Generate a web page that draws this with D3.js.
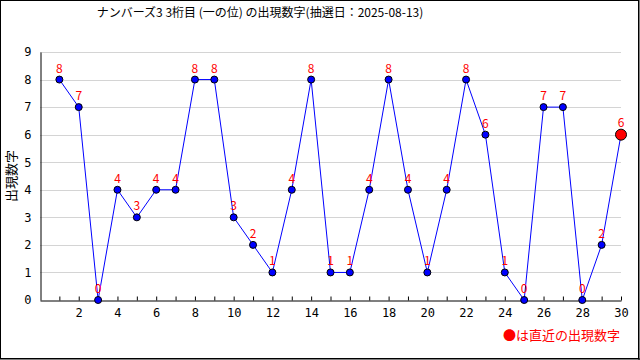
<!DOCTYPE html>
<html>
<head>
<meta charset="utf-8">
<script src="https://cdn.jsdelivr.net/npm/d3@7"></script>
<style>
  body { margin: 0; background: #fff; }
  text { font-family: "Noto Sans CJK JP", "DejaVu Sans", sans-serif; }
</style>
</head>
<body>
<div id="chart"></div>
<script>
const draws = [1,2,3,4,5,6,7,8,9,10,11,12,13,14,15,16,17,18,19,20,21,22,23,24,25,26,27,28,29,30];
const digits = [8,7,0,4,3,4,4,8,8,3,2,1,4,8,1,1,4,8,4,1,4,8,6,1,0,7,7,0,2,6];
const yTicks = [0,1,2,3,4,5,6,7,8,9];
const xLabels = [2,4,6,8,10,12,14,16,18,20,22,24,26,28,30];

const w = 640, h = 360;
const margin = { top: 52, right: 19, bottom: 60, left: 40 };

const svg = d3.select("#chart").append("svg")
    .attr("width", w)
    .attr("height", h);

// frame
svg.append("rect")
    .attr("x", 0.5).attr("y", 0.5)
    .attr("width", w - 2).attr("height", h - 2)
    .attr("fill", "#fff")
    .attr("stroke", "#000");
svg.append("line").attr("x1", w - 1).attr("x2", w - 1).attr("y1", 0).attr("y2", h).attr("stroke", "#000");
svg.append("line").attr("x1", 0).attr("x2", w).attr("y1", h - 1).attr("y2", h - 1).attr("stroke", "#000");

const x = d3.scaleLinear().domain([0, 30]).range([margin.left, w - margin.right]);
const y = d3.scaleLinear().domain([0, 9]).range([h - margin.bottom, margin.top]);

// gridlines
svg.append("g")
    .selectAll("line")
    .data(yTicks.filter(d => d > 0))
    .enter().append("line")
    .attr("x1", x(0)).attr("x2", x(30))
    .attr("y1", d => Math.round(y(d)) + 0.5)
    .attr("y2", d => Math.round(y(d)) + 0.5)
    .attr("stroke", "#d4d4d4");

// y axis
const yAxis = svg.append("g")
    .attr("transform", `translate(${x(0) + 0.5},0)`)
    .call(d3.axisLeft(y).tickValues(yTicks).tickSize(0).tickPadding(9));
yAxis.select(".domain").attr("stroke", "#000");
yAxis.selectAll("text").attr("font-size", 12).attr("fill", "#000")
    .style("font-family", "'DejaVu Sans Mono', monospace");

// x axis
const xAxis = svg.append("g")
    .attr("transform", `translate(0,${Math.round(y(0)) + 0.5})`)
    .call(d3.axisBottom(x).tickValues(draws).tickSizeInner(-4).tickSizeOuter(0).tickPadding(8)
        .tickFormat(d => xLabels.includes(d) ? d : ""));
xAxis.select(".domain").attr("stroke", "#000");
xAxis.selectAll("line").attr("stroke", "#000");
xAxis.selectAll("text").attr("font-size", 12).attr("fill", "#000")
    .style("font-family", "'DejaVu Sans Mono', monospace");

// line
const line = d3.line()
    .x((d, i) => x(draws[i]))
    .y(d => y(d));
svg.append("path")
    .datum(digits)
    .attr("d", line)
    .attr("fill", "none")
    .attr("stroke", "#0000ff")
    .attr("stroke-width", 1);

// points
svg.append("g")
    .selectAll("circle")
    .data(digits)
    .enter().append("circle")
    .attr("cx", (d, i) => x(draws[i]))
    .attr("cy", d => y(d))
    .attr("r", (d, i) => i === digits.length - 1 ? 5.5 : 3.5)
    .attr("fill", (d, i) => i === digits.length - 1 ? "#ff0000" : "#0000ff")
    .attr("stroke", "#000")
    .attr("stroke-width", 1);

// value labels
svg.append("g")
    .selectAll("text")
    .data(digits)
    .enter().append("text")
    .attr("x", (d, i) => x(draws[i]))
    .attr("y", (d, i) => y(d) - (i === digits.length - 1 ? 8 : 7))
    .attr("text-anchor", "middle")
    .attr("font-size", 12)
    .attr("fill", "#ff0000")
    .text(d => d);

// title
svg.append("text")
    .attr("x", 260)
    .attr("y", 17)
    .attr("text-anchor", "middle")
    .attr("font-size", 12)
    .text("ナンバーズ3 3桁目 (一の位) の出現数字(抽選日：2025-08-13)");

// y axis title
svg.append("text")
    .attr("transform", "translate(16,176) rotate(-90)")
    .attr("text-anchor", "middle")
    .attr("font-size", 13)
    .text("出現数字");

// note
svg.append("text")
    .attr("x", 620)
    .attr("y", 340)
    .attr("text-anchor", "end")
    .attr("font-size", 13)
    .attr("fill", "#ff0000")
    .text("●は直近の出現数字");
</script>
</body>
</html>
